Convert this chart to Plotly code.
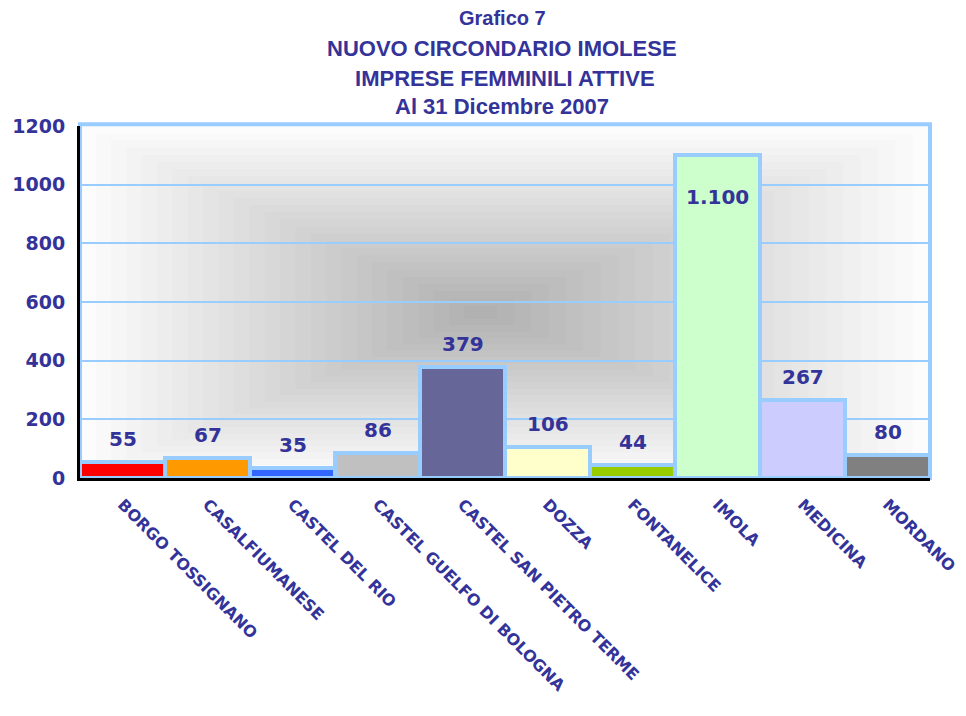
import plotly.graph_objects as go

# -- data --
comuni = [
    "BORGO TOSSIGNANO", "CASALFIUMANESE", "CASTEL DEL RIO",
    "CASTEL GUELFO DI BOLOGNA", "CASTEL SAN PIETRO TERME", "DOZZA",
    "FONTANELICE", "IMOLA", "MEDICINA", "MORDANO",
]
imprese = [55, 67, 35, 86, 379, 106, 44, 1100, 267, 80]
etichette = ["55", "67", "35", "86", "379", "106", "44", "1.100", "267", "80"]
colori = [
    "#FF0000", "#FF9900", "#3366FF", "#C0C0C0", "#666699",
    "#FFFFCC", "#99CC00", "#CCFFCC", "#CCCCFF", "#808080",
]
y_ticks = [0, 200, 400, 600, 800, 1000, 1200]
titolo = [
    "Grafico 7",
    "NUOVO CIRCONDARIO IMOLESE",
    " IMPRESE FEMMINILI ATTIVE",
    "Al 31 Dicembre 2007",
]

NAVY = "#333399"
LIGHT_BLUE = "#99CCFF"

fig = go.Figure()

fig.add_trace(
    go.Bar(
        x=comuni,
        y=imprese,
        marker=dict(color=colori, line=dict(color=LIGHT_BLUE, width=4)),
        showlegend=False,
        hoverinfo="x+y",
    )
)

# value labels: above the bar, inside near the top for the tallest one
for name, val, lab in zip(comuni, imprese, etichette):
    inside = val > 1000
    fig.add_annotation(
        x=name, y=val, text=f"<b>{lab}</b>", showarrow=False,
        yshift=-42 if inside else 23,
        font=dict(family="DejaVu Sans", size=20, color=NAVY),
    )

# title, one annotation per line (paper coords relative to plot area)
title_y = [1.306, 1.219, 1.136, 1.054]
title_size = [20, 22, 22, 22]
for txt, yy, sz in zip(titolo, title_y, title_size):
    fig.add_annotation(
        xref="paper", yref="paper", x=0.497, y=yy,
        xanchor="center", yanchor="middle", showarrow=False,
        text=f"<b>{txt}</b>",
        font=dict(family="Liberation Sans, Arial", size=sz, color=NAVY),
    )

# soft grey "from centre" gradient behind the plot
n_layers = 26
cx, cy = 0.47, 0.47
for i in range(n_layers):
    f = (i + 1) / n_layers
    fig.add_shape(
        type="rect", xref="x domain", yref="y domain", layer="below",
        x0=cx - cx * f, x1=cx + (1 - cx) * f,
        y0=cy - cy * f, y1=cy + (1 - cy) * f,
        line_width=0, fillcolor="rgba(0,0,0,0.011)",
    )

# light blue frame around plot area
fig.add_shape(
    type="rect", xref="x domain", yref="y domain", layer="below",
    x0=0, x1=1, y0=0, y1=1.005,
    line=dict(color=LIGHT_BLUE, width=4), fillcolor="rgba(0,0,0,0)",
)

# page body has an 8px margin, so the figure is sized to fit inside it
fig.update_layout(
    width=950, height=700,
    paper_bgcolor="white", plot_bgcolor="white",
    bargap=0,
    margin=dict(l=72, r=28, t=118, b=230),
)

fig.update_xaxes(
    tickangle=45, automargin=False,
    tickfont=dict(family="DejaVu Sans", size=16, color=NAVY, weight="bold"),
    showline=True, linecolor="black", linewidth=3,
    ticks="", showgrid=False,
    ticklabelstandoff=8,
)
fig.update_yaxes(
    range=[0, 1200], automargin=False,
    tickvals=y_ticks,
    tickfont=dict(family="DejaVu Sans", size=19, color=NAVY, weight="bold"),
    showline=True, linecolor="black", linewidth=3,
    showgrid=True, gridcolor=LIGHT_BLUE, gridwidth=2,
    zeroline=False, ticks="", ticklabelstandoff=8,
)

fig.write_html("out.html")
